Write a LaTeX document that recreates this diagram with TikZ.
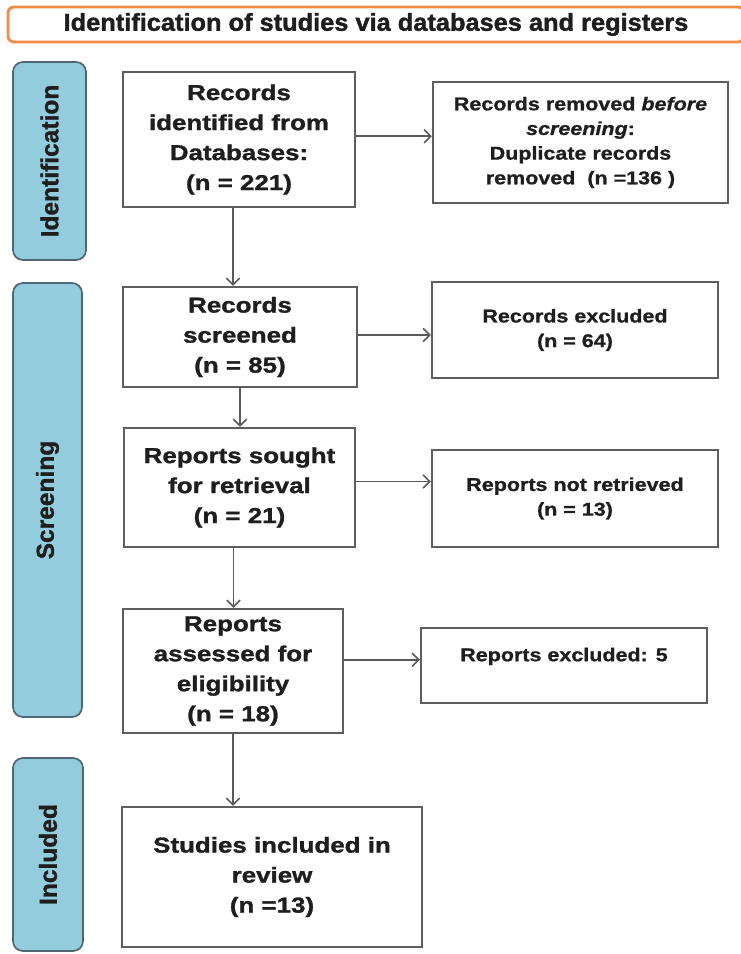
\documentclass[tikz,border=0pt]{standalone}
\usepackage{fontspec}
\setmainfont{Liberation Sans}
\newfontfamily\mainfnt[FakeStretch=1.2,FakeBold=1.3]{Liberation Sans}
\newfontfamily\sidefnt[FakeBold=1.2]{Liberation Sans}
\newfontfamily\headfnt[FakeStretch=1.04,FakeBold=1.4]{Liberation Sans}
\newfontfamily\rightfnt[FakeStretch=1.16,FakeBold=0.9]{Liberation Sans}
\usetikzlibrary{arrows.meta}
\definecolor{boxline}{HTML}{5E5E5E}
\definecolor{arrowcol}{HTML}{5A5A5A}
\definecolor{txt}{HTML}{1E1E1E}
\definecolor{sidefill}{HTML}{93CDDD}
\definecolor{sideline}{HTML}{4F6772}
\definecolor{headline}{HTML}{F28C45}
\tikzset{
  mainbox/.style={draw=boxline, line width=1.7pt, fill=white, text=txt, align=center,
    inner sep=0pt, font=\mainfnt\bfseries\fontsize{16.2}{22.5}\selectfont},
  sidebox/.style={draw=sideline, line width=1.3pt, fill=sidefill, text=txt, rounded corners=7.5pt,
    rotate=90, inner sep=0pt, font=\sidefnt\bfseries\fontsize{18.4}{22}\selectfont},
  rightbox/.style={draw=boxline, line width=1.7pt, fill=white, text=txt, align=center,
    inner sep=0pt, minimum width=214.5pt, font=\rightfnt\bfseries\fontsize{13.9}{18.5}\selectfont},
  headbox/.style={draw=headline, line width=2.2pt, fill=white, text=txt, rounded corners=4.5pt,
    inner sep=0pt, font=\headfnt\bfseries\fontsize{18.3}{20}\selectfont},
  arr/.style={draw=arrowcol, line width=1.3pt, -{Straight Barb[length=5pt,width=10pt,line width=1.2pt]}}
}
\begin{document}
\begin{tikzpicture}[x=0.75pt,y=-0.75pt]
\useasboundingbox (0,0) rectangle (740,954);
\fill[white] (0,0) rectangle (740,954);

% header
\node[headbox, minimum width=552pt, minimum height=26.25pt] (head) at (376,24.5)
  {Identification of studies via databases and registers};

% side labels
\node[sidebox, minimum width=148.5pt, minimum height=54.75pt] (sid) at (49.5,161) {Identification};
\node[sidebox, minimum width=325.5pt, minimum height=51.75pt] (sscr) at (47.5,500) {Screening};
\node[sidebox, minimum width=144.75pt, minimum height=52.5pt] (sinc) at (48,854.5) {Included};

% main boxes
\node[mainbox, minimum width=174pt, minimum height=101.25pt] (b1) at (239,139.5)
  {Records\\identified from\\Databases:\\(n = 221)};
\node[mainbox, minimum width=175.5pt, minimum height=75pt] (b2) at (240,337)
  {Records\\screened\\(n = 85)};
\node[mainbox, minimum width=173.25pt, minimum height=89.25pt] (b3) at (239.5,487.5)
  {Reports sought\\for retrieval\\(n = 21)};
\node[mainbox, minimum width=165pt, minimum height=93pt] (b4) at (233,671)
  {Reports\\assessed for\\eligibility\\(n = 18)};
\node[mainbox, minimum width=225pt, minimum height=105pt] (b5) at (272,877)
  {Studies included in\\review\\(n =13)};

% right boxes
\node[rightbox, minimum width=221.25pt, minimum height=90.75pt] (r1) at (580.5,142.5)
  {Records removed \textit{before}\\\textit{screening}:\\Duplicate records\\removed\ \ (n =136 )};
\node[rightbox, minimum height=72pt] (r2) at (575,330)
  {Records excluded\\(n = 64)};
\node[rightbox, minimum height=72.75pt] (r3) at (575,498.5)
  {Reports not retrieved\\(n = 13)};
\node[rightbox, minimum height=56.25pt, text height=10pt, text depth=16.4pt] (r4) at (564,665.5)
  {Reports excluded: 5};

% connectors
\draw[arr] ([yshift=2.5pt]b1.east) -- ([yshift=2.5pt]b1.east -| r1.west);
\draw[arr] ([yshift=1.5pt]b2.east) -- ([yshift=1.5pt]b2.east -| r2.west);
\draw[arr] ([yshift=4.5pt]b3.east) -- ([yshift=4.5pt]b3.east -| r3.west);
\draw[arr] ([yshift=8.5pt]b4.east) -- ([yshift=8.5pt]b4.east -| r4.west);

\draw[arr] ([xshift=-4.5pt]b1.south) -- ([xshift=-4.5pt]b1.south |- b2.north);
\draw[arr] (b2.south) -- (b2.south |- b3.north);
\draw[arr] ([xshift=-4.5pt]b3.south) -- ([xshift=-4.5pt]b3.south |- b4.north);
\draw[arr] (b4.south) -- (b4.south |- b5.north);
\end{tikzpicture}
\end{document}
